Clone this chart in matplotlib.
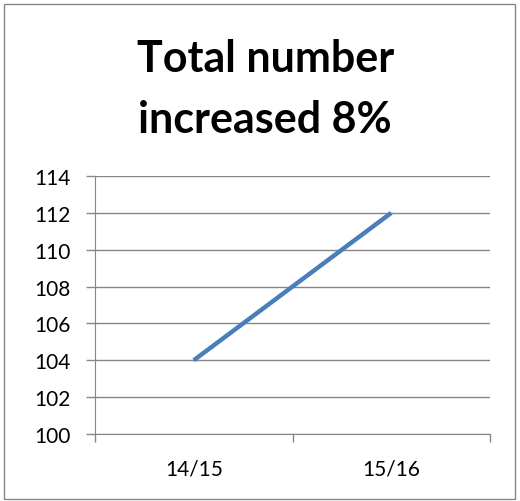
import matplotlib.pyplot as plt
from matplotlib.patches import Rectangle

categories = ['14/15', '15/16']
values = [104, 112]
yticks = [100, 102, 104, 106, 108, 110, 112, 114]
title_lines = ['Total number', 'increased 8%']

plt.rcParams['font.family'] = ['Lato', 'DejaVu Sans']

fig = plt.figure(figsize=(5.2, 5.02), dpi=100)
ax = fig.add_axes([0.1827, 0.1335, 0.7596, 0.5139])

x = [0.5, 1.5]
ax.plot(x, values, color='#4A7EBB', linewidth=3.2, solid_capstyle='butt')

ax.set_xlim(0, 2)
ax.set_ylim(100, 114)
ax.set_yticks(yticks)
ax.set_xticks([0, 1, 2])
ax.set_xticklabels([])
ax.set_xticks(x, minor=True)
ax.set_xticklabels(categories, minor=True)
ax.tick_params(axis='x', which='minor', length=0, pad=18, labelsize=15)
ax.tick_params(axis='x', which='major', length=6, width=1, color='#868686', direction='out')
ax.tick_params(axis='y', length=6.5, width=1, color='#868686', labelsize=15, pad=11)

ax.grid(axis='y', color='#868686', linewidth=1.0)
ax.set_axisbelow(True)
for s in ['top', 'right']:
    ax.spines[s].set_visible(False)
ax.spines['left'].set_color('#868686')
ax.spines['bottom'].set_color('#868686')

fig.text(0.51, 0.857, title_lines[0], ha='center', va='baseline',
         fontsize=31, fontweight='bold')
fig.text(0.51, 0.735, title_lines[1], ha='center', va='baseline',
         fontsize=31, fontweight='bold')

border = Rectangle((0.0077, 0.004), 0.983, 0.986, transform=fig.transFigure,
                   fill=False, edgecolor='#868686', linewidth=1.0)
fig.patches.append(border)

fig.savefig('out.png', dpi=100)
